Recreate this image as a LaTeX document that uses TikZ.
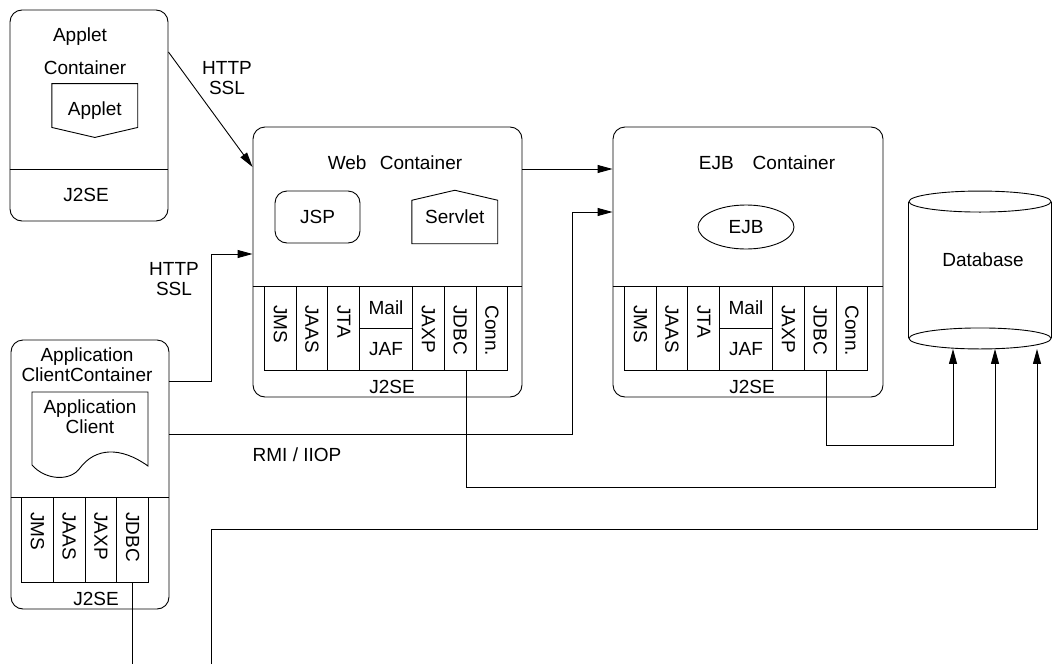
\documentclass[tikz,border=0pt]{standalone}
\usepackage{fontspec}
\setmainfont{Liberation Sans}
\usetikzlibrary{shapes.geometric, arrows.meta}
\tikzstyle{container}=[draw,rectangle,rounded corners=12pt,inner sep=0pt]
\tikzstyle{cell}=[draw,rectangle,anchor=north west,inner sep=0pt,minimum width=31.7pt,minimum height=84pt]
\tikzstyle{vtext}=[rotate=-90,anchor=west,inner sep=0pt]
\tikzstyle{every node}=[font=\fontsize{19}{20}\selectfont]
\newcommand{\apirow}[2]{%
  \foreach \i/\x/\t in {1/0/JMS,2/31.7/JAAS,3/63.4/JTA,5/148.1/JAXP,6/179.8/JDBC,7/211.5/Conn.}{
    \node[cell] (#1\i) at (#2+\x,286) {};
    \node[vtext] at ([yshift=-19pt]#1\i.north) {\t};
  }
  \node[cell,minimum width=53pt,minimum height=42pt] (#1mail) at (#2+95.1,286) {Mail};
  \node[cell,minimum width=53pt,minimum height=42pt] (#1jaf) at (#2+95.1,328) {JAF};
}

\begin{document}
\begin{tikzpicture}[x=1pt,y=-1pt,>={Triangle[length=15pt,width=8pt]},line width=0.9pt]
  \useasboundingbox (0,0) rectangle (1052,664);

  \node[container,minimum width=158pt,minimum height=211pt] (appletc) at (89,115.5) {};
  \draw (appletc.west |- 0,169) -- (appletc.east |- 0,169);
  \node (appletct) at (80,37) {Applet};
  \node (appletcu) at (85,68) {Container};
  \node[minimum width=85pt,minimum height=53pt,inner sep=0pt] (applet) at (94.8,110.5) {Applet};
  \draw (applet.north west) -- (applet.north east) -- ([yshift=10pt]applet.south east)
    -- (applet.south) -- ([yshift=10pt]applet.south west) -- cycle;
  \node (appletj) at (86,195) {J2SE};

  \node[container,minimum width=269pt,minimum height=270pt] (webc) at (387.5,262) {};
  \draw (webc.west |- 0,286) -- (webc.east |- 0,286);
  \node (webt) at (395,163) {Web\hspace{0.7em}Container};
  \node[container,minimum width=85pt,minimum height=52pt] (jsp) at (317.5,217) {JSP};
  \node[minimum width=85pt,minimum height=52.6pt,inner sep=0pt] (servlet) at (454.8,217) {Servlet};
  \draw (servlet.south west) -- ([yshift=-10pt]servlet.north west) -- (servlet.north)
    -- ([yshift=-10pt]servlet.north east) -- (servlet.south east) -- cycle;
  \apirow{web}{264}
  \node (webj) at (392,387) {J2SE};

  \node[container,minimum width=270pt,minimum height=270pt] (ejbc) at (748,262) {};
  \draw (ejbc.west |- 0,286) -- (ejbc.east |- 0,286);
  \node (ejbt) at (767,163) {EJB\quad Container};
  \node[draw,ellipse,minimum width=96pt,minimum height=44pt] (ejb) at (746,227) {EJB};
  \apirow{ejb}{624}
  \node (ejbj) at (752,387) {J2SE};

  \node[container,minimum width=158pt,minimum height=269pt] (clientc) at (90,474.5) {};
  \draw (clientc.west |- 0,497) -- (clientc.east |- 0,497);
  \node[align=center] (clientt) at (87,365) {Application\\ClientContainer};
  \node[align=center] (appclient) at (90,417) {Application\\Client};
  \draw (32,392) -- (148,392) -- (148,466) .. controls (120,446) and (95,448) .. (80,468)
    .. controls (70,482) and (45,480) .. (32,465) -- cycle;
  \foreach \i/\x/\t in {1/21/JMS,2/52.75/JAAS,3/84.5/JAXP,4/116.25/JDBC}{
    \node[cell,minimum width=31.75pt,minimum height=85pt] (cl\i) at (\x,497) {};
    \node[vtext] at ([yshift=-15pt]cl\i.north) {\t};
  }
  \node (clientj) at (96,599) {J2SE};

  \node[minimum width=142pt,minimum height=136pt] (db) at (980,270) {};
  \draw (db.north west) -- (db.south west) (db.north east) -- (db.south east);
  \draw (db.north) ellipse [x radius=71pt,y radius=10.5pt]
    (db.south) ellipse [x radius=71pt,y radius=10.5pt];
  \node (dbt) at (983,260) {Database};

  \draw[->] (appletc.east |- 0,52) -- (webc.west |- 0,167);
  \node[align=center] (http1) at (227,78) {HTTP\\SSL};
  \draw[->] (clientc.east |- 0,381) -- ++(42,0) |- (webc.west |- 0,254);
  \node[align=center] (http2) at (174,279.5) {HTTP\\SSL};
  \draw[->] (webc.east |- 0,169) -- (ejbc.west |- 0,169);
  \draw[->] (clientc.east |- 0,434) -- ++(403,0) |- (ejbc.west |- 0,212);
  \node (rmi) at (297,455) {RMI / IIOP};
  \draw[->] ([xshift=6pt]ejb6.south) -- ++(0,75) -| ([xshift=-27pt,yshift=-10.5pt]db.south);
  \draw[->] ([xshift=6pt]web6.south) -- ++(0,117) -| ([xshift=15pt,yshift=-10.5pt]db.south);
  \coordinate (cutdb) at (211,664);
  \draw[->] (cutdb) -- ++(0,-135) -| ([xshift=57pt,yshift=-10.5pt]db.south);
  \coordinate (cutcl) at (133,664);
  \draw (cl4.south) -- (cl4.south |- cutcl);
\end{tikzpicture}
\end{document}
